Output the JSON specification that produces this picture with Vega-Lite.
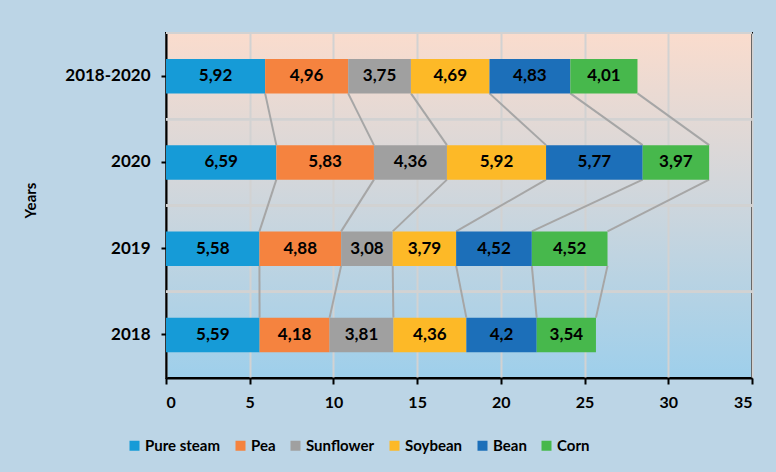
{
  "$schema": "https://vega.github.io/schema/vega-lite/v6.json",
  "width": 586,
  "height": 345,
  "autosize": {"type": "none"},
  "padding": {"left": 166, "top": 33, "right": 24, "bottom": 94},
  "background": "#BCD5E6",
  "config": {
    "font": "Lato",
    "locale": {"number": {"decimal": ",", "thousands": ".", "grouping": [3], "currency": ["", " €"]}},
    "view": {
      "stroke": "black",
      "strokeWidth": 2,
      "fill": {
        "gradient": "linear",
        "x1": 0, "y1": 0, "x2": 0, "y2": 1,
        "stops": [
          {"offset": 0, "color": "#FADCCD"},
          {"offset": 0.5, "color": "#CDD6DD"},
          {"offset": 1, "color": "#9ECFEB"}
        ]
      }
    }
  },
  "data": {
    "values": [
      {"year": "2018-2020", "crop": "Pure steam", "value": 5.92},
      {"year": "2018-2020", "crop": "Pea", "value": 4.96},
      {"year": "2018-2020", "crop": "Sunflower", "value": 3.75},
      {"year": "2018-2020", "crop": "Soybean", "value": 4.69},
      {"year": "2018-2020", "crop": "Bean", "value": 4.83},
      {"year": "2018-2020", "crop": "Corn", "value": 4.01},
      {"year": "2020", "crop": "Pure steam", "value": 6.59},
      {"year": "2020", "crop": "Pea", "value": 5.83},
      {"year": "2020", "crop": "Sunflower", "value": 4.36},
      {"year": "2020", "crop": "Soybean", "value": 5.92},
      {"year": "2020", "crop": "Bean", "value": 5.77},
      {"year": "2020", "crop": "Corn", "value": 3.97},
      {"year": "2019", "crop": "Pure steam", "value": 5.58},
      {"year": "2019", "crop": "Pea", "value": 4.88},
      {"year": "2019", "crop": "Sunflower", "value": 3.08},
      {"year": "2019", "crop": "Soybean", "value": 3.79},
      {"year": "2019", "crop": "Bean", "value": 4.52},
      {"year": "2019", "crop": "Corn", "value": 4.52},
      {"year": "2018", "crop": "Pure steam", "value": 5.59},
      {"year": "2018", "crop": "Pea", "value": 4.18},
      {"year": "2018", "crop": "Sunflower", "value": 3.81},
      {"year": "2018", "crop": "Soybean", "value": 4.36},
      {"year": "2018", "crop": "Bean", "value": 4.2},
      {"year": "2018", "crop": "Corn", "value": 3.54}
    ]
  },
  "transform": [
    {"calculate": "indexof(['Pure steam','Pea','Sunflower','Soybean','Bean','Corn'], datum.crop)", "as": "crop_idx"},
    {"calculate": "indexof(['2018-2020','2020','2019','2018'], datum.year)", "as": "year_idx"},
    {"stack": "value", "groupby": ["year"], "sort": [{"field": "crop_idx"}], "as": ["x0", "x1"]},
    {"calculate": "(datum.x0 + datum.x1) / 2", "as": "xmid"}
  ],
  "layer": [
    {
      "mark": {"type": "rule", "color": "#D2D2D2", "strokeWidth": 2},
      "encoding": {
        "y": {"field": "year", "type": "nominal", "bandPosition": -0.75,
              "scale": {"domain": ["2018-2020", "2020", "2019", "2018"], "paddingInner": 0.6, "paddingOuter": 0.3}}
      }
    },
    {
      "transform": [
        {"window": [{"op": "lead", "field": "x1", "as": "x1n"}, {"op": "lead", "field": "year", "as": "yn"}],
         "groupby": ["crop"], "sort": [{"field": "year_idx"}]},
        {"filter": "datum.yn != null"}
      ],
      "mark": {"type": "rule", "color": "#A6A6A6", "strokeWidth": 2},
      "encoding": {
        "x": {"field": "x1", "type": "quantitative"},
        "x2": {"field": "x1n"},
        "y": {"field": "year", "type": "nominal", "bandPosition": 1},
        "y2": {"field": "yn", "bandPosition": 0}
      }
    },
    {
      "mark": {"type": "bar"},
      "encoding": {
        "x": {"field": "x0", "type": "quantitative",
              "scale": {"domain": [0, 35], "nice": false},
              "axis": {"values": [0, 5, 10, 15, 20, 25, 30, 35], "title": null, "grid": true,
                       "gridColor": "#D2D2D2", "gridWidth": 2,
                       "domainColor": "black", "domainWidth": 2, "tickColor": "black", "tickWidth": 2, "tickSize": 6,
                       "labelFontSize": 16, "labelFontWeight": "bold", "labelColor": "black", "labelPadding": 10}},
        "x2": {"field": "x1"},
        "y": {"field": "year", "type": "nominal",
              "scale": {"domain": ["2018-2020", "2020", "2019", "2018"], "paddingInner": 0.6, "paddingOuter": 0.3},
              "axis": {"title": "Years", "titleFontSize": 15, "titleFontWeight": "bold", "titleColor": "black",
                       "titleX": -128, "titleY": 167, "titleAngle": -90,
                       "domainColor": "black", "domainWidth": 2, "tickColor": "black", "tickWidth": 2, "tickSize": 5,
                       "labelFontSize": 17, "labelFontWeight": "bold", "labelColor": "black", "labelPadding": 11}},
        "color": {"field": "crop", "type": "nominal",
                  "scale": {"domain": ["Pure steam", "Pea", "Sunflower", "Soybean", "Bean", "Corn"],
                            "range": ["#169BD7", "#F5833F", "#A0A0A0", "#FDB927", "#1C6FB9", "#47B84C"]},
                  "legend": {"orient": "none", "legendX": -39, "legendY": 405, "direction": "horizontal",
                             "title": null, "symbolType": "square", "symbolSize": 100, "symbolStrokeWidth": 0,
                             "labelFontSize": 15, "labelFontWeight": "bold", "labelColor": "black",
                             "columnPadding": 12, "labelOffset": 3}}
      }
    },
    {
      "mark": {"type": "text", "fontSize": 17, "fontWeight": "bold", "color": "black", "align": "center", "baseline": "middle"},
      "encoding": {
        "x": {"field": "xmid", "type": "quantitative"},
        "y": {"field": "year", "type": "nominal"},
        "text": {"field": "value", "type": "quantitative", "format": ".3~g"}
      }
    }
  ]
}
